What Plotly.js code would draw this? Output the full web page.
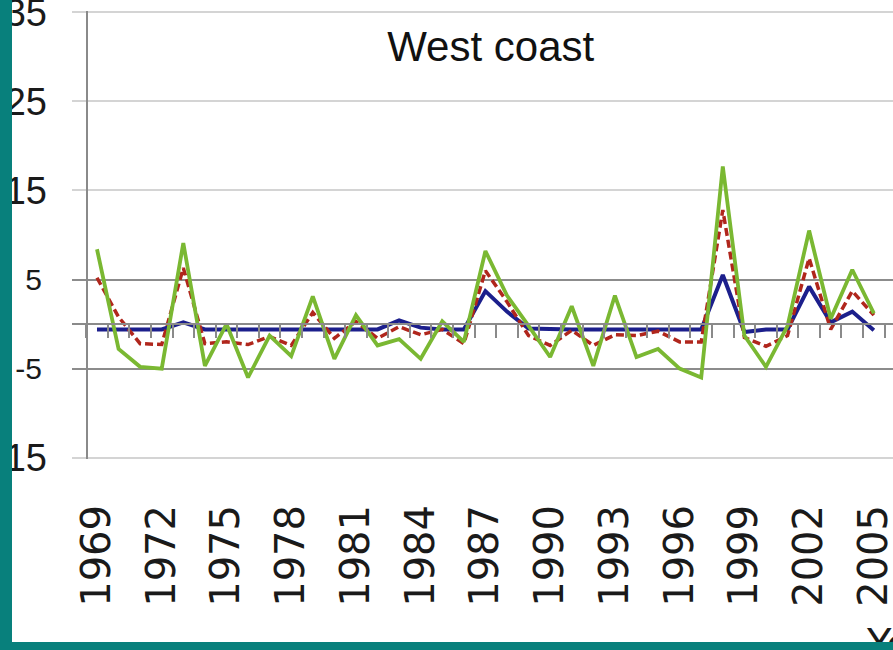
<!DOCTYPE html>
<html>
<head>
<meta charset="utf-8">
<script src="https://cdn.plot.ly/plotly-3.0.1.min.js"></script>
<style>
  html, body { margin: 0; padding: 0; background: #08807c; width: 893px; height: 650px; overflow: hidden; }
  #chart { position: absolute; left: 12px; top: 0; width: 881px; height: 642px; background: #ffffff; overflow: hidden; }
</style>
</head>
<body>
<div id="chart"></div>
<script>
// ---- data ----
const years = [1969,1970,1971,1972,1973,1974,1975,1976,1977,1978,1979,1980,1981,1982,1983,1984,1985,1986,1987,1988,1989,1990,1991,1992,1993,1994,1995,1996,1997,1998,1999,2000,2001,2002,2003,2004,2005];
const blueSeries = [-0.6,-0.6,-0.6,-0.6,0.2,-0.6,-0.6,-0.6,-0.6,-0.6,-0.6,-0.6,-0.6,-0.6,0.4,-0.4,-0.6,-0.6,3.7,1.4,-0.5,-0.6,-0.6,-0.6,-0.6,-0.6,-0.6,-0.6,-0.6,5.5,-0.9,-0.6,-0.6,4.2,0.2,1.4,-0.7];
const redSeries = [5.2,0.8,-2.2,-2.3,6.3,-2.2,-2.0,-2.3,-1.4,-2.4,1.3,-1.6,0.3,-1.6,-0.3,-1.2,-0.6,-2.2,6.0,2.5,-1.3,-2.4,-0.7,-2.4,-1.2,-1.3,-0.8,-2.0,-2.0,12.8,-1.5,-2.5,-1.3,7.4,-0.6,3.7,1.0];
const greenSeries = [8.4,-2.8,-4.8,-5.0,9.1,-4.7,0.0,-6.0,-1.3,-3.6,3.1,-3.9,1.0,-2.4,-1.7,-3.9,0.3,-2.0,8.2,3.2,-0.2,-3.7,2.0,-4.7,3.2,-3.7,-2.8,-5.0,-6.0,17.7,-1.3,-4.8,-0.2,10.5,0.6,6.1,1.2];
const yearLabels = [1969,1972,1975,1978,1981,1984,1987,1990,1993,1996,1999,2002,2005];
const bigYTicks = [-15,15,25,35];
const smallYTicks = [-5,5];
const titleText = 'West coast';
const xTitleText = 'Year';

const xRange = [1967.842, 2005.887];
const yRange = [-15.15, 35.15];
const zeroPos = (0 - yRange[0]) / (yRange[1] - yRange[0]);

const traces = [
  { x: years, y: blueSeries, type: 'scatter', mode: 'lines', xaxis: 'x', yaxis: 'y',
    line: { color: '#1c1f8c', width: 4 }, hoverinfo: 'skip' },
  { x: years, y: redSeries, type: 'scatter', mode: 'lines', xaxis: 'x', yaxis: 'y',
    line: { color: '#b0261c', width: 3.5, dash: '8px,4px' }, hoverinfo: 'skip' },
  { x: years, y: greenSeries, type: 'scatter', mode: 'lines', xaxis: 'x2', yaxis: 'y2',
    line: { color: '#7ab832', width: 3.8 }, hoverinfo: 'skip' }
];

const layout = {
  width: 881, height: 642,
  margin: { l: 60, r: 0, t: 11, b: 183, pad: 0 },
  paper_bgcolor: '#ffffff', plot_bgcolor: '#ffffff',
  showlegend: false,
  title: { text: titleText, x: 0.51, xref: 'paper', y: 0.922, yref: 'paper', xanchor: 'center', yanchor: 'middle',
           font: { family: 'Liberation Sans, Arial, sans-serif', size: 42, color: '#111111' } },
  // zero-crossing axis with year ticks
  xaxis: { range: xRange, domain: [0, 1], anchor: 'free', position: zeroPos,
           showline: true, linecolor: '#8a8a8a', linewidth: 2,
           ticks: 'outside', ticklen: 13, tickwidth: 2, tickcolor: '#8a8a8a',
           tick0: 1968.5, dtick: 1, showticklabels: false, showgrid: false, zeroline: false, fixedrange: true },
  // bottom axis carrying the year labels
  xaxis2: { range: xRange, overlaying: 'x', anchor: 'free', position: 0, side: 'bottom',
            tickvals: yearLabels, ticktext: yearLabels.map(String), tickangle: -90,
            ticks: '', showline: false, showgrid: false, zeroline: false, ticklabelstandoff: 37,
            ticklabeloverflow: 'allow',
            tickfont: { family: 'DejaVu Sans, sans-serif', size: 40, color: '#1a1a1a' }, fixedrange: true },
  yaxis: { range: yRange, domain: [0, 1], tickvals: bigYTicks, ticktext: bigYTicks.map(String),
           showgrid: true, gridcolor: '#d4d4d4', gridwidth: 2, zeroline: false, showline: false,
           ticks: '', ticklabelstandoff: 24, ticklabeloverflow: 'allow',
           tickfont: { family: 'Liberation Sans, Arial, sans-serif', size: 38, color: '#1a1a1a' }, fixedrange: true },
  yaxis2: { range: yRange, overlaying: 'y', anchor: 'free', position: 0.01827, side: 'left',
            tickvals: smallYTicks, ticktext: smallYTicks.map(String),
            showgrid: true, gridcolor: '#8c8c8c', gridwidth: 2, zeroline: false,
            showline: true, linecolor: '#8a8a8a', linewidth: 2, ticks: '', ticklabelstandoff: 38,
            tickfont: { family: 'Liberation Sans, Arial, sans-serif', size: 30, color: '#1a1a1a' }, fixedrange: true },
  annotations: [
    { text: xTitleText, xref: 'paper', yref: 'paper', x: 0.965, y: -0.357, xanchor: 'left', yanchor: 'top',
      showarrow: false, font: { family: 'DejaVu Sans, sans-serif', size: 40, color: '#1a1a1a' } }
  ]
};

Plotly.newPlot('chart', traces, layout, { displayModeBar: false, staticPlot: true });
</script>
</body>
</html>
